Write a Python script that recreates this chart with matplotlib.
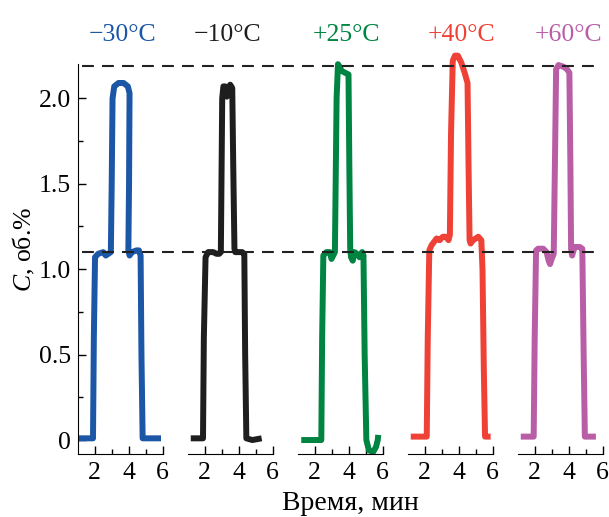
import matplotlib
matplotlib.use("Agg")
import matplotlib.pyplot as plt
from matplotlib.lines import Line2D
from matplotlib.ticker import MultipleLocator, FixedLocator, FuncFormatter
import matplotlib.transforms as mtransforms

plt.rcParams['font.family'] = ['Liberation Serif', 'DejaVu Serif']
plt.rcParams['mathtext.fontset'] = 'custom'
plt.rcParams['mathtext.rm'] = 'Liberation Serif'
plt.rcParams['mathtext.it'] = 'Liberation Serif:italic'

# --- data (time, min / concentration, vol.%) ---
labels = ['\u221230\u00b0C', '\u221210\u00b0C', '+25\u00b0C', '+40\u00b0C', '+60\u00b0C']
colors = ['#1c56a6', '#1e1e1e', '#008442', '#ef4136', '#b95ea6']

t_m30 = [1.03, 1.9, 1.95, 2.02, 2.2, 2.5, 2.65, 2.8, 2.95, 3.0, 3.05, 3.15, 3.4, 3.7,
         3.95, 4.05, 4.02, 3.98, 4.05, 4.2, 4.45, 4.6, 4.7, 4.75, 4.82, 5.2, 5.9]
c_m30 = [0.01, 0.01, 0.6, 1.07, 1.09, 1.10, 1.08, 1.09, 1.10, 1.5, 2.0, 2.07, 2.09, 2.09,
         2.07, 2.03, 1.5, 1.11, 1.08, 1.10, 1.11, 1.11, 1.08, 0.5, 0.01, 0.01, 0.01]

t_m10 = [1.18, 1.9, 1.95, 2.05, 2.2, 2.5, 2.7, 2.85, 2.95, 3.03, 3.1, 3.2, 3.3, 3.4, 3.5,
         3.62, 3.68, 3.75, 3.8, 4.0, 4.2, 4.33, 4.38, 4.45, 4.8, 5.35]
c_m10 = [0.01, 0.01, 0.6, 1.07, 1.10, 1.10, 1.09, 1.09, 1.10, 2.0, 2.07, 2.07, 2.01, 2.06, 2.08,
         2.06, 1.6, 1.12, 1.10, 1.10, 1.10, 1.09, 0.5, 0.01, 0.0, 0.01]

t_p25 = [1.22, 2.4, 2.45, 2.52, 2.7, 2.9, 3.0, 3.1, 3.2, 3.3, 3.38, 3.45, 3.6, 3.8, 4.0,
         4.05, 4.1, 4.15, 4.25, 4.35, 4.5, 4.65, 4.8, 4.88, 4.95, 5.05, 5.2, 5.45, 5.62, 5.72, 5.75]
c_p25 = [0.0, 0.0, 0.6, 1.08, 1.10, 1.10, 1.06, 1.08, 1.10, 2.0, 2.2, 2.19, 2.16, 2.15, 2.14,
         1.6, 1.12, 1.07, 1.05, 1.10, 1.09, 1.07, 1.10, 1.08, 0.5, 0.0, -0.06, -0.07, -0.04, 0.0, 0.03]

t_p40 = [1.18, 2.12, 2.18, 2.27, 2.4, 2.55, 2.7, 2.88, 3.07, 3.25, 3.4, 3.48, 3.55, 3.65, 3.78,
         3.95, 4.15, 4.35, 4.52, 4.58, 4.64, 4.7, 4.85, 5.0, 5.15, 5.33, 5.4, 5.48, 5.55, 5.88]
c_p40 = [0.02, 0.02, 0.6, 1.11, 1.14, 1.16, 1.18, 1.17, 1.19, 1.19, 1.17, 1.2, 1.8, 2.22, 2.25,
         2.25, 2.21, 2.15, 2.09, 1.6, 1.17, 1.15, 1.17, 1.18, 1.19, 1.17, 1.0, 0.4, 0.02, 0.02]

t_p60 = [1.18, 1.94, 2.0, 2.08, 2.2, 2.5, 2.7, 2.82, 2.9, 3.0, 3.12, 3.2, 3.26, 3.4, 3.7,
         3.9, 4.04, 4.1, 4.14, 4.2, 4.35, 4.65, 4.8, 4.88, 4.95, 5.6]
c_p60 = [0.02, 0.02, 0.6, 1.11, 1.12, 1.12, 1.10, 1.05, 1.03, 1.06, 1.09, 1.7, 2.17, 2.195, 2.185,
         2.17, 2.15, 1.6, 1.12, 1.08, 1.13, 1.13, 1.12, 0.5, 0.02, 0.02]

series = [(t_m30, c_m30), (t_m10, c_m10), (t_p25, c_p25), (t_p40, c_p40), (t_p60, c_p60)]
ref_levels = [2.19, 1.10]

W, H = 609, 517
fig = plt.figure(figsize=(W / 100, H / 100), dpi=100)

lefts = [77.7, 187.7, 297.5, 407.7, 517.7]
ax_w = 85
bottom = 1 - 453.7 / H
top = 1 - 64.2 / H
axes = []
for i, (t, c) in enumerate(series):
    ax = fig.add_axes([lefts[i] / W, bottom, ax_w / W, top - bottom])
    ax.plot(t, c, color=colors[i], lw=4.3, clip_on=False,
            solid_joinstyle='round', solid_capstyle='butt')
    ax.set_xlim(1, 6)
    ax.set_ylim(-0.08, 2.2)
    ax.patch.set_alpha(0)
    for s in ['top', 'right']:
        ax.spines[s].set_visible(False)
    ax.xaxis.set_major_locator(FixedLocator([2, 4, 6]))
    ax.xaxis.set_minor_locator(FixedLocator([3, 5]))
    ax.tick_params(axis='both', which='both', direction='in', labelsize=18.5, width=1)
    ax.tick_params(axis='x', which='major', length=6, pad=6)
    ax.tick_params(axis='x', which='minor', length=3.5)
    if i == 0:
        ax.yaxis.set_major_locator(MultipleLocator(0.5))
        ax.yaxis.set_minor_locator(MultipleLocator(0.25))
        ax.yaxis.set_major_formatter(FuncFormatter(lambda v, p: '0' if abs(v) < 1e-9 else f'{v:.1f}'))
        ax.tick_params(axis='y', which='major', length=6, pad=5)
        ax.tick_params(axis='y', which='minor', length=3.5)
    else:
        ax.spines['left'].set_visible(False)
        ax.tick_params(axis='y', which='both', left=False, labelleft=False)
    fig.text((lefts[i] + ax_w / 2 + [2, -3, 6, 11, 8][i]) / W, 1 - 41 / H, labels[i],
             color=colors[i], fontsize=18.5, ha='center', va='baseline')
    axes.append(ax)

# dashed reference levels across all panels
trans = mtransforms.blended_transform_factory(fig.transFigure, axes[0].transData)
for lvl in ref_levels:
    fig.lines.append(Line2D([82 / W, 602 / W], [lvl, lvl], transform=trans,
                            color='#222222', lw=1.5, dashes=(5.7, 3.9), zorder=5))

fig.text(24 / W, 1 - 249 / H, '$C$, об.%', rotation=90, fontsize=18.5,
         ha='center', va='center')
fig.text(350 / W, 1 - 504 / H, 'Время, мин', fontsize=20, ha='center', va='center')

fig.savefig('out.png', dpi=100)
